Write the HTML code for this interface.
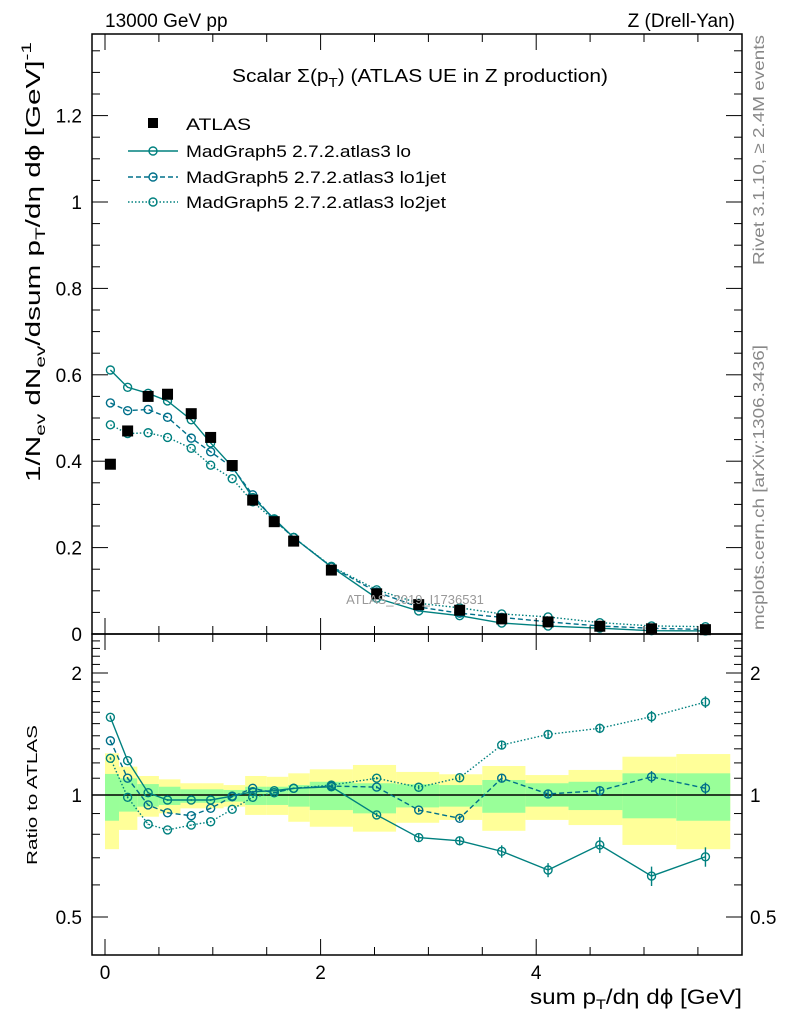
<!DOCTYPE html>
<html><head><meta charset="utf-8"><style>
html,body{margin:0;padding:0;background:#fff}
svg{display:block;font-family:"Liberation Sans",sans-serif}
</style></head><body>
<svg id="chart" width="786" height="1024" viewBox="0 0 786 1024" xmlns="http://www.w3.org/2000/svg">
<g id="bands"></g>
<g id="marks"></g>
<g id="axes"></g>
<text x="105" y="27" font-size="19">13000 GeV pp</text>
<text x="735" y="27" font-size="19" text-anchor="end">Z (Drell-Yan)</text>
<text x="232" y="82" font-size="18" textLength="376" lengthAdjust="spacingAndGlyphs">Scalar Σ(p<tspan font-size="13" dy="5">T</tspan><tspan dy="-5">) (ATLAS UE in Z production)</tspan></text>
<text x="415" y="604" font-size="13" fill="#999" text-anchor="middle">ATLAS_2019_I1736531</text>
<text transform="translate(764,265) rotate(-90)" font-size="16" fill="#888" textLength="230" lengthAdjust="spacingAndGlyphs">Rivet 3.1.10, ≥ 2.4M events</text>
<text transform="translate(764,630) rotate(-90)" font-size="16" fill="#888" textLength="285" lengthAdjust="spacingAndGlyphs">mcplots.cern.ch [arXiv:1306.3436]</text>
<text transform="translate(40,482) rotate(-90)" font-size="20" textLength="440" lengthAdjust="spacingAndGlyphs">1/N<tspan font-size="14" dy="5">ev</tspan><tspan dy="-5"> dN</tspan><tspan font-size="14" dy="5">ev</tspan><tspan dy="-5">/dsum p</tspan><tspan font-size="14" dy="5">T</tspan><tspan dy="-5">/dη dϕ  [GeV]</tspan><tspan font-size="14" dy="-9">-1</tspan></text>
<text transform="translate(37,865) rotate(-90)" font-size="15" textLength="140" lengthAdjust="spacingAndGlyphs">Ratio to ATLAS</text>
<text x="530" y="1004" font-size="21" textLength="212" lengthAdjust="spacingAndGlyphs">sum p<tspan font-size="14" dy="5">T</tspan><tspan dy="-5">/dη dϕ [GeV]</tspan></text>
<g>
<rect x="148" y="118" width="10" height="10" fill="#000"/>
<text x="186" y="130" font-size="17" textLength="65" lengthAdjust="spacingAndGlyphs">ATLAS</text>
<line x1="128" y1="151" x2="178" y2="151" stroke="#00807f" stroke-width="1.4"/><circle cx="153" cy="151" r="4" fill="none" stroke="#00807f" stroke-width="1.4"/>
<text x="186" y="157" font-size="17" textLength="225" lengthAdjust="spacingAndGlyphs">MadGraph5 2.7.2.atlas3 lo</text>
<line x1="128" y1="177" x2="178" y2="177" stroke="#00708a" stroke-width="1.4" stroke-dasharray="5,3"/><circle cx="153" cy="177" r="4" fill="none" stroke="#00708a" stroke-width="1.4"/>
<text x="186" y="183" font-size="17" textLength="260" lengthAdjust="spacingAndGlyphs">MadGraph5 2.7.2.atlas3 lo1jet</text>
<line x1="128" y1="202" x2="178" y2="202" stroke="#00807f" stroke-width="1.4" stroke-dasharray="1.5,2"/><circle cx="153" cy="202" r="4" fill="none" stroke="#00807f" stroke-width="1.4"/>
<text x="186" y="208" font-size="17" textLength="260" lengthAdjust="spacingAndGlyphs">MadGraph5 2.7.2.atlas3 lo2jet</text>
</g>
</svg>
<script>
const binEdges=[0,0.13,0.3,0.5,0.7,0.9,1.1,1.3,1.5,1.7,1.9,2.3,2.7,3.1,3.5,3.9,4.3,4.8,5.3,5.8];
const xCenters=[0.05,0.21,0.4,0.58,0.8,0.98,1.18,1.37,1.57,1.75,2.1,2.52,2.91,3.29,3.68,4.11,4.59,5.07,5.57];
const dataVals=[0.393,0.47,0.55,0.555,0.51,0.455,0.39,0.31,0.26,0.215,0.148,0.093,0.068,0.055,0.035,0.028,0.018,0.012,0.01];
const ratioLo=[1.555,1.215,1.013,0.972,0.972,0.972,0.994,1.019,1.025,1.039,1.048,0.893,0.785,0.771,0.726,0.653,0.753,0.631,0.704];
const ratioLo1=[1.361,1.1,0.945,0.904,0.889,0.927,0.99,1.039,1.013,1.039,1.052,1.046,0.918,0.876,1.1,1.006,1.025,1.109,1.039];
const ratioLo2=[1.232,0.987,0.847,0.82,0.843,0.859,0.922,0.987,1.013,1.039,1.058,1.1,1.045,1.103,1.328,1.411,1.461,1.561,1.696];
const errLo=[0.01,0.01,0.005,0.005,0.005,0.005,0.005,0.005,0.005,0.005,0.008,0.012,0.02,0.025,0.035,0.04,0.045,0.055,0.055];
const yelHi=[1.267,1.175,1.114,1.093,1.069,1.069,1.058,1.114,1.109,1.131,1.157,1.186,1.14,1.125,1.179,1.12,1.153,1.243,1.262];
const yelLo=[0.735,0.82,0.884,0.901,0.927,0.927,0.936,0.893,0.893,0.859,0.835,0.812,0.854,0.868,0.816,0.868,0.843,0.753,0.735];
const grnHi=[1.127,1.099,1.064,1.048,1.033,1.033,1.029,1.048,1.048,1.058,1.078,1.069,1.063,1.058,1.089,1.069,1.078,1.131,1.131];
const grnLo=[0.864,0.91,0.936,0.945,0.957,0.957,0.963,0.945,0.945,0.936,0.918,0.901,0.932,0.936,0.904,0.936,0.918,0.876,0.864];
const yTicksTop=[0,0.2,0.4,0.6,0.8,1,1.2];
const yTickLabelsTop=["0","0.2","0.4","0.6","0.8","1","1.2"];
const rTicksMajor=[0.5,1,2];
const rTickLabels=["0.5","1","2"];
const xTicks=[0,2,4];
const xTickLabels=["0","2","4"];

const L=92,R=742,T=34,MID=634,B=955;
const NS="http://www.w3.org/2000/svg";
const X=v=>105+107.8*v;
const Y=v=>634-432*v;
const RY=v=>795-122*Math.log2(v);
function mk(tag,attrs,parent){const e=document.createElementNS(NS,tag);for(const k in attrs)e.setAttribute(k,attrs[k]);parent.appendChild(e);return e;}
const bands=document.getElementById('bands'),marks=document.getElementById('marks'),axes=document.getElementById('axes');

for(let i=0;i<xCenters.length;i++){
  const x1=X(binEdges[i]),x2=X(binEdges[i+1]);
  const y=mk('rect',{x:x1,y:RY(yelHi[i]),width:x2-x1,height:RY(yelLo[i])-RY(yelHi[i]),fill:'#ffff99'},bands);
  
  
  const g=mk('rect',{x:x1,y:RY(grnHi[i]),width:x2-x1,height:RY(grnLo[i])-RY(grnHi[i]),fill:'#99ff99'},bands);
  
  
}
mk('line',{x1:L,x2:R,y1:RY(1),y2:RY(1),stroke:'#000','stroke-width':1.5},bands);

const series=[
 {r:ratioLo,c:'#00807f',d:'',name:'lo'},
 {r:ratioLo1,c:'#00708a',d:'5,3',name:'lo1jet'},
 {r:ratioLo2,c:'#00807f',d:'1.5,2',name:'lo2jet'}];
series.forEach(s=>{
  const top=xCenters.map((x,i)=>X(x)+','+Y(dataVals[i]*s.r[i])).join(' ');
  const bot=xCenters.map((x,i)=>X(x)+','+RY(s.r[i])).join(' ');
  const p1=mk('polyline',{points:top,fill:'none',stroke:s.c,'stroke-width':1.4,'stroke-dasharray':s.d},marks);
  
  
  const p2=mk('polyline',{points:bot,fill:'none',stroke:s.c,'stroke-width':1.4,'stroke-dasharray':s.d},marks);
  
  
  xCenters.forEach((x,i)=>{
    const e=errLo[i];
    mk('line',{x1:X(x),x2:X(x),y1:RY(s.r[i]*(1+e*(s.name=='lo'?1:0.6))),y2:RY(s.r[i]*(1-e*(s.name=='lo'?1:0.6))),stroke:s.c,'stroke-width':1.4},marks);
    const c1=mk('circle',{cx:X(x),cy:Y(dataVals[i]*s.r[i]),r:4,fill:'none',stroke:s.c,'stroke-width':1.4},marks);
    
    
    const c2=mk('circle',{cx:X(x),cy:RY(s.r[i]),r:4,fill:'none',stroke:s.c,'stroke-width':1.4},marks);
    
    
  });
});
xCenters.forEach((x,i)=>{
  const r=mk('rect',{x:X(x)-5.5,y:Y(dataVals[i])-5.5,width:11,height:11,fill:'#000'},marks);
  
  
});

mk('rect',{x:L,y:T,width:R-L,height:MID-T,fill:'none',stroke:'#000','stroke-width':1.5},axes);
mk('rect',{x:L,y:MID,width:R-L,height:B-MID,fill:'none',stroke:'#000','stroke-width':1.5},axes);
for(let v=0;v<=1.38;v+=0.05){const maj=Math.abs(v/0.2-Math.round(v/0.2))<1e-6;const l=maj?16:8;const y=Y(v);
  mk('line',{x1:L,x2:L+l,y1:y,y2:y,stroke:'#000'},axes);mk('line',{x1:R,x2:R-l,y1:y,y2:y,stroke:'#000'},axes);}
yTicksTop.forEach((v,i)=>{const t=mk('text',{x:82,y:Y(v)+7,'font-size':19,'text-anchor':'end'},axes);t.textContent=yTickLabelsTop[i];
  
  });
for(let v=0.5;v<=2.45;v+=0.1){const maj=rTicksMajor.some(m=>Math.abs(m-v)<1e-6);const l=maj?16:8;const y=RY(v);
  mk('line',{x1:L,x2:L+l,y1:y,y2:y,stroke:'#000'},axes);mk('line',{x1:R,x2:R-l,y1:y,y2:y,stroke:'#000'},axes);}
rTicksMajor.forEach((v,i)=>{
  const a=mk('text',{x:82,y:RY(v)+7,'font-size':19,'text-anchor':'end'},axes);a.textContent=rTickLabels[i];
  
  
  const b=mk('text',{x:750,y:RY(v)+7,'font-size':19},axes);b.textContent=rTickLabels[i];
  
  });
for(let v=0;v<=5.8;v+=0.5){const maj=xTicks.some(m=>Math.abs(m-v)<1e-6);const l=maj?16:8;const x=X(v);
  [[T,1],[MID,-1],[MID,1],[B,-1]].forEach(([y0,d])=>mk('line',{x1:x,x2:x,y1:y0,y2:y0+d*l,stroke:'#000'},axes));}
xTicks.forEach((v,i)=>{const t=mk('text',{x:X(v),y:979,'font-size':19,'text-anchor':'middle'},axes);t.textContent=xTickLabels[i];
  
  });
</script>
</body></html>
